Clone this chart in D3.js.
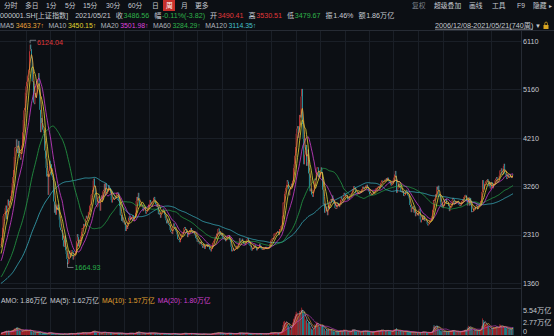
<!DOCTYPE html>
<html>
<head>
<meta charset="utf-8">
<script src="https://cdn.jsdelivr.net/npm/d3@7"></script>
<style>
  html, body { margin: 0; padding: 0; background: #0c0f14; }
  svg { display: block; font-family: "Liberation Sans", "Noto Sans CJK SC", sans-serif; }
</style>
</head>
<body>
<script>
/***** Data *****/
// weekly closes before 2006/12/08, only used to warm up the moving averages
var warmup = [1340,1330,1320,1310,1340,1420,1400,1390,1360,1320,1310,1330,1350,1340,1320,1290,1280,1270,
  1240,1220,1200,1190,1180,1260,1300,1290,1280,1240,1220,1180,1170,1200,1180,1140,1150,1130,1110,1060,
  1040,1050,1010,1080,1060,1090,1040,1030,1020,1030,1080,1120,1160,1180,1160,1150,1170,1160,1140,1110,
  1100,1090,1100,1090,1100,1110,1130,1150,1160,
  1180,1230,1260,1270,1290,1290,1280,1300,1300,1290,1300,1330,1380,1440,1440,1520,1620,1640,1600,1660,
  1680,1700,1720,1640,1600,1590,1570,1610,1600,1610,1640,1680,1710,1750,1760,1760,1800,1830,1860,1880,
  1960,2010,2070,2100];

// weekly closes shown on the chart (740 weeks)
var c2006 = [2120,2250,2450,2675];
var c2007 = [2715,2730,2830,2880,2610,2730,2998,2880,2970,2960,3070,3180,3320,3440,3580,3840,4020,4030,4180,4000,
  3910,4150,3900,3820,3780,3910,4060,4320,4560,4750,4800,5100,5220,5310,5420,5450,5550,5910,6040,5950,
  5770,5320,5320,4900,4870,5090,5010,5100,5260];
var c2008 = [5360,5480,5180,4760,4320,4600,4500,4370,4350,4300,3960,3800,3620,3450,3500,3090,3560,3760,3610,3690,
  3470,3430,3380,2960,2740,2900,2700,2860,2800,2900,2780,2600,2450,2400,2400,2350,2200,2080,2070,2290,
  2000,1930,1830,1730,1750,1990,1930,1870,2000,2000,1990,1820];
var c2009 = [1880,1900,1950,1990,2180,2320,2260,2080,2190,2130,2280,2370,2440,2440,2520,2480,2480,2620,2680,2630,
  2640,2750,2760,2880,2910,3090,3110,3190,3370,3410,3260,3110,2890,2860,2860,3030,3060,2940,2780,3000,
  3080,3000,3160,3190,3310,3100,3320,3200,3110,3150,3280];
var c2010 = [3200,3220,3130,2990,2940,3020,3050,3000,3010,3030,3060,3130,3140,3130,2980,2870,2690,2700,2580,2650,
  2550,2570,2510,2530,2380,2470,2420,2570,2640,2670,2600,2640,2610,2660,2690,2600,2580,2660,2740,2970,
  3050,2980,3130,2990,2880,2880,2860,2880,2900,2770,2810];
var c2011 = [2840,2790,2720,2750,2790,2830,2900,2900,2990,2940,2900,2960,2970,3030,3050,2960,2910,2860,2870,2860,
  2710,2730,2700,2640,2750,2760,2800,2820,2780,2700,2630,2590,2530,2610,2530,2500,2480,2400,2360,2360,
  2320,2470,2530,2480,2420,2390,2360,2310,2220,2220,2200];
var c2012 = [2160,2240,2320,2330,2350,2360,2440,2460,2420,2400,2350,2260,2300,2360,2400,2400,2440,2390,2340,2350,
  2370,2310,2310,2240,2230,2170,2190,2170,2130,2130,2170,2120,2090,2050,2130,2110,2030,2090,2100,2130,
  2070,2120,2070,2020,2030,1980,2030,2150,2150,2190,2230];
var c2013 = [2270,2240,2330,2300,2420,2430,2310,2360,2320,2280,2330,2240,2230,2210,2240,2180,2200,2250,2280,2300,
  2300,2210,2160,2070,1980,2010,2040,1990,2010,2030,2050,2090,2060,2100,2140,2240,2190,2160,2180,2230,
  2190,2130,2150,2110,2140,2200,2220,2240,2200,2110,2100];
var c2014 = [2080,2010,2000,2050,2030,2110,2110,2060,2060,2000,2050,2040,2060,2130,2100,2040,2030,2010,2030,2030,
  2040,2030,2070,2030,2040,2060,2050,2060,2130,2190,2220,2230,2240,2220,2330,2330,2330,2350,2360,2380,
  2340,2300,2420,2420,2480,2490,2680,2940,2940,3110,3160,3230];
var c2015 = [3290,3380,3350,3210,3080,3200,3250,3310,3240,3370,3620,3690,3860,4030,4290,4390,4440,4210,4310,4660,
  4610,5020,5170,4480,4190,3690,3880,3960,4070,3660,3740,3980,3510,3230,3160,3200,3100,3090,3050,3180,
  3390,3410,3380,3590,3630,3630,3440,3520,3430,3580,3630,3540];
var c2016 = [3190,2900,2920,2740,2760,2860,2770,2690,2870,2810,2960,2980,3010,2980,3080,2960,2940,2910,2830,2830,
  2820,2940,2930,2890,2850,2930,2990,3050,3010,2980,2980,3130,3110,3070,3070,3080,3000,3030,3000,3060,
  3090,3100,3130,3200,3190,3260,3240,3230,3120,3110,3100];
var c2017 = [3150,3110,3120,3160,3140,3200,3200,3250,3220,3210,3240,3270,3220,3290,3250,3170,3150,3100,3080,3090,
  3110,3100,3160,3120,3160,3190,3220,3220,3240,3250,3260,3210,3270,3330,3370,3370,3350,3350,3350,3390,
  3380,3420,3370,3430,3380,3350,3320,3290,3270,3300,3310];
var c2018 = [3390,3430,3490,3560,3460,3130,3200,3290,3250,3310,3270,3150,3170,3130,3160,3070,3080,3090,3160,3190,
  3140,3080,3070,3020,2890,2850,2750,2830,2830,2870,2740,2800,2670,2730,2730,2700,2680,2800,2820,2610,
  2550,2600,2680,2600,2680,2580,2590,2610,2590,2520,2490];
var c2019 = [2510,2550,2600,2600,2620,2680,2800,2990,2970,3020,3100,3090,3250,3190,3270,3090,3080,2940,2880,2850,
  2900,2830,2880,3000,2980,3010,2930,2920,2940,2870,2770,2820,2880,2890,2990,3030,3010,2930,2910,2970,
  2940,2950,2960,2960,2890,2890,2870,2910,2970,3000,3010,3050];
var c2020 = [3080,3090,3080,2980,2880,2920,3040,2880,3030,2890,2750,2770,2760,2800,2840,2810,2860,2900,2870,2810,
  2850,2930,2920,2970,2980,3150,3380,3210,3200,3310,3350,3360,3380,3400,3360,3260,3340,3220,3220,3340,
  3280,3220,3310,3310,3380,3410,3440,3350,3390,3400,3470];
var c2021 = [3570,3570,3610,3480,3500,3660,3700,3510,3500,3450,3400,3420,3480,3450,3430,3470,3450,3420,3490,3486.56];

// weekly turnover, in 0.1 万亿
var v2006 = [4,5,6,7];
var v2007 = [8,8,9,9,10,8,9,10,8,8,9,10,11,12,13,15,16,15,17,19,16,14,13,10,9,8,9,11,12,11,10,12,11,11,11,10,10,12,13,11,
  9,8,7,7,6,7,6,5,6];
var v2008 = [8,8,7,7,6,3,4,4,4,4,4,4,3,3,3,5,7,6,5,5,4,4,3,3,2,3,3,3,3,3,2,2,2,2,2,2,2,2,3,4,2,2,2,2,3,4,4,3,4,4,3,3];
var v2009 = [3,3,3,3,5,6,5,4,4,4,5,5,6,6,6,5,5,6,5,5,5,5,5,6,6,7,8,9,10,10,9,8,7,6,6,6,5,5,4,5,5,6,6,7,7,6,6,5,5,5,6];
var v2010 = [6,5,5,5,4,4,4,4,4,4,4,5,5,5,4,4,5,4,4,4,3,3,3,3,3,3,3,4,4,5,5,4,4,4,4,4,3,4,4,7,8,7,8,7,6,5,5,4,4,4,4];
var v2011 = [4,4,3,4,4,4,5,5,5,5,5,5,5,5,5,4,4,4,4,3,3,3,3,3,3,4,4,4,3,3,4,3,3,3,3,3,3,2,3,3,3,4,4,3,3,3,2,2,2,2,2];
var v2012 = [2,2,3,3,4,4,4,5,4,4,3,3,3,3,4,4,4,4,3,3,3,3,3,2,2,2,2,2,2,2,2,2,2,2,3,3,2,2,2,2,2,2,2,2,2,2,3,4,4,4,5];
var v2013 = [5,4,5,5,6,6,5,5,5,4,4,4,3,3,3,3,3,4,4,5,4,4,3,4,4,3,3,3,3,3,4,4,4,4,5,6,5,5,4,5,4,4,4,4,4,5,4,4,3,3,3];
var v2014 = [3,3,3,3,3,4,4,3,3,3,3,3,3,4,4,3,3,3,3,3,3,3,3,3,3,4,4,4,5,6,6,6,5,5,6,6,6,5,4,5,5,5,6,6,7,9,14,24,32,34,
  28,30];
var v2015 = [32,30,26,22,18,16,12,20,24,30,38,40,45,50,56,54,50,44,50,58,55,60,66,60,50,55,45,35,38,35,28,30,32,30,22,18,15,14,12,
  14,22,26,24,30,32,28,24,22,20,24,22,20];
var v2016 = [24,22,16,15,10,11,14,10,15,13,12,13,12,14,11,10,9,8,7,7,9,9,8,8,9,10,11,10,9,9,11,14,12,10,9,10,8,7,7,8,
  9,9,10,14,14,13,12,10,9,9,8];
var v2017 = [8,8,8,7,7,8,9,10,10,9,9,10,9,10,9,8,8,7,7,7,7,7,8,8,8,9,10,10,10,10,10,10,11,12,13,12,11,11,9,10,
  10,11,11,12,11,10,9,9,8,8,8];
var v2018 = [12,13,14,14,13,16,8,10,10,10,10,10,9,9,8,8,8,8,9,9,8,8,7,7,7,7,7,7,7,7,6,6,6,6,6,5,5,6,6,5,
  7,6,8,8,8,7,6,6,6,5,5];
var v2019 = [6,6,7,6,6,8,11,20,24,22,20,21,20,22,18,15,12,11,10,9,9,9,8,9,9,9,8,8,8,8,9,9,9,10,12,12,11,10,8,8,
  8,8,8,8,8,7,8,9,9,10,10,10];
var v2020 = [12,13,12,11,18,17,22,20,20,17,17,13,12,11,11,12,11,11,10,10,11,12,12,13,12,22,40,36,30,28,
  28,25,24,24,22,19,18,15,13,18,16,15,18,17,19,20,20,19,18,17,18];
var v2021 = [26,24,22,20,18,22,20,19,17,15,18,16,14,14,14,15,16,14,17,19];

var priceTicks = [1360, 2310, 3260, 4210, 5160, 6110];
var amountTicks = [0, 2.77, 5.54];
var highestPrice = 6124.04;
var lowestPrice = 1664.93;

var periodTabs = ["分时", "多日", "1分", "5分", "15分", "30分", "60分", "日", "周", "月", "更多"];
var toolTabs = ["复权", "超级叠加", "画线", "工具", "F9", "隐藏"];
var stockName = "000001.SH[上证指数]";
var quoteDate = "2021/05/21";
var quoteLabels = ["收", "幅", "开", "高", "低", "振", "额"];
var quoteValues = ["3486.56", "-0.11%(-3.82)", "3490.41", "3530.51", "3479.67", "1.46%", "1.86万亿"];
var maNames = ["MA5", "MA10", "MA20", "MA60", "MA120"];
var maPeriods = [5, 10, 20, 60, 120];
var maLast = ["3463.37↑", "3450.15↑", "3501.98↑", "3284.29↑", "3114.35↑"];
var rangeText = "2006/12/08-2021/05/21(740周)";
var amoLabels = ["AMO: 1.86万亿", "MA(5): 1.62万亿", "MA(10): 1.57万亿", "MA(20): 1.80万亿"];
var amoPeriods = [5, 10, 20];

/***** Configuration *****/
var W = 554, H = 336;
var bg = "#0c0f14";
var upColor = "#e03b3d", downColor = "#2fb2bd";
var maColors = ["#eea53c", "#e2da36", "#d23fd2", "#25a046", "#3ab0c0"];
var maTextColors = ["#e9a23a", "#e0d62e", "#de42de", "#2fb24a", "#45c0cc"];
var amoColors = ["#c9ccd2", "#c9ccd2", "#e0a030", "#d23fd2"];
var textColor = "#c6cad1";
var fs = 7.2;

var closes = [].concat(c2006, c2007, c2008, c2009, c2010, c2011, c2012, c2013, c2014,
  c2015, c2016, c2017, c2018, c2019, c2020, c2021);
var amounts = [].concat(v2006, v2007, v2008, v2009, v2010, v2011, v2012, v2013, v2014,
  v2015, v2016, v2017, v2018, v2019, v2020, v2021).map(function (v) { return v / 10; });
var n = closes.length;
var series = warmup.concat(closes);
var P = warmup.length;

function movingAverage(arr, offset, len) {
  return d3.range(n).map(function (i) {
    var end = offset + i + 1;
    var start = Math.max(0, end - len);
    return d3.mean(arr.slice(start, end));
  });
}

/***** Scales *****/
var x = d3.scaleLinear().domain([0, n - 1]).range([1, 513]);
var y = d3.scaleLinear().domain([1360, 6110]).range([283, 41]);
var yv = d3.scaleLinear().domain([0, 5.54]).range([335, 312]);
var col = d3.scaleLinear().domain([0, 21]).range([1.5, 516]);

var svg = d3.select("body").append("svg").attr("width", W).attr("height", H);
svg.append("rect").attr("width", W).attr("height", H).attr("fill", bg);

var defs = svg.append("defs");
defs.append("clipPath").attr("id", "mainClip").append("rect")
  .attr("x", 0).attr("y", 31).attr("width", 520).attr("height", 257);
defs.append("clipPath").attr("id", "volClip").append("rect")
  .attr("x", 0).attr("y", 305).attr("width", 520).attr("height", 31);

/***** Grid *****/
var grid = svg.append("g").attr("stroke", "#1a1f27").attr("stroke-width", 1);
d3.range(1, 21).forEach(function (k) {
  var gx = Math.round(col(k)) + 0.5;
  grid.append("line").attr("x1", gx).attr("x2", gx).attr("y1", 31).attr("y2", H);
});
priceTicks.forEach(function (t) {
  var gy = Math.round(y(t)) + 0.5;
  grid.append("line").attr("x1", 0).attr("x2", 521).attr("y1", gy).attr("y2", gy);
});
var frame = svg.append("g").attr("stroke", "#262b34").attr("stroke-width", 1);
frame.append("line").attr("x1", 0).attr("x2", W).attr("y1", 30.5).attr("y2", 30.5);
frame.append("line").attr("x1", 0).attr("x2", 521).attr("y1", 288.5).attr("y2", 288.5);
frame.append("line").attr("x1", 521.5).attr("x2", 521.5).attr("y1", 31).attr("y2", H);

/***** Candles *****/
var main = svg.append("g").attr("clip-path", "url(#mainClip)");
main.selectAll("rect.k").data(closes).enter().append("rect")
  .attr("class", "k")
  .attr("x", function (d, i) { return x(i) - 0.4; })
  .attr("width", 0.8)
  .attr("y", function (d, i) { var o = series[P + i - 1]; return y(Math.max(o, d)); })
  .attr("height", function (d, i) { var o = series[P + i - 1]; return Math.max(0.8, Math.abs(y(o) - y(d))); })
  .attr("fill", function (d, i) { return d >= series[P + i - 1] ? upColor : downColor; });

/***** Moving averages *****/
var line = d3.line().x(function (d, i) { return x(i); }).y(function (d) { return y(d); });
maPeriods.slice().reverse().forEach(function (p, j) {
  var k = maPeriods.length - 1 - j;
  main.append("path")
    .attr("d", line(movingAverage(series, P, p)))
    .attr("fill", "none").attr("stroke", maColors[k]).attr("stroke-width", 0.8);
});

/***** High / low marks *****/
var iHigh = d3.maxIndex(closes), iLow = d3.minIndex(closes);
var hx = x(iHigh), hy = y(highestPrice);
svg.append("path").attr("d", "M" + hx + "," + (hy + 3) + "V" + hy + "H" + (hx + 6))
  .attr("fill", "none").attr("stroke", "#9aa0a8").attr("stroke-width", 0.7);
svg.append("text").attr("x", hx + 7).attr("y", hy + 2.5).attr("dy", "0.35em")
  .attr("fill", "#e0383a").attr("font-size", fs).text(highestPrice.toFixed(2));
var lx = x(iLow), ly = y(lowestPrice);
svg.append("path").attr("d", "M" + lx + "," + (ly - 5) + "V" + ly + "H" + (lx + 6))
  .attr("fill", "none").attr("stroke", "#9aa0a8").attr("stroke-width", 0.7);
svg.append("text").attr("x", lx + 7).attr("y", ly).attr("dy", "0.35em")
  .attr("fill", "#27b04a").attr("font-size", fs).text(lowestPrice.toFixed(2));

/***** Right axis *****/
var yAxis = d3.axisRight(y).tickValues(priceTicks).tickSize(0).tickPadding(2).tickFormat(d3.format("d"));
var ga = svg.append("g").attr("transform", "translate(521,0)").call(yAxis);
ga.select(".domain").remove();
ga.selectAll("text").attr("fill", textColor).attr("font-size", fs).attr("font-family", null);

/***** Volume *****/
var vol = svg.append("g").attr("clip-path", "url(#volClip)");
vol.selectAll("rect.v").data(amounts).enter().append("rect")
  .attr("class", "v")
  .attr("x", function (d, i) { return x(i) - 0.4; })
  .attr("width", 0.8)
  .attr("y", function (d) { return yv(d); })
  .attr("height", function (d) { return yv(0) - yv(d); })
  .attr("fill", function (d, i) { return closes[i] >= series[P + i - 1] ? "#b3262c" : "#22959e"; });
var vline = d3.line().x(function (d, i) { return x(i); }).y(function (d) { return yv(d); });
amoPeriods.forEach(function (p, k) {
  vol.append("path").attr("d", vline(movingAverage(amounts, 0, p)))
    .attr("fill", "none").attr("stroke", amoColors[k + 1]).attr("stroke-width", 0.6);
});
amountTicks.forEach(function (t) {
  svg.append("text").attr("x", 523).attr("y", yv(t) - (t ? 1.5 : 3.5)).attr("dy", "0.35em")
    .attr("fill", textColor).attr("font-size", fs)
    .text(t ? t.toFixed(2) + "万亿" : "0");
});

/***** Header *****/
function label(s, px, py, fill, size) {
  return svg.append("text").attr("x", px).attr("y", py).attr("dy", "0.35em")
    .attr("fill", fill).attr("font-size", size || fs).text(s);
}
// lay texts out one after another, sized so the row ends where the reference's row ends
function flow(parts, x0, py, xEnd) {
  var probe = svg.append("g");
  var textW = 0, gaps = 0;
  parts.forEach(function (p) {
    textW += probe.append("text").attr("font-size", 10).text(p[0]).node().getComputedTextLength();
    gaps += p[2];
  });
  probe.remove();
  var size = Math.min(7.4, 10 * (xEnd - x0 - gaps) / textW);
  var cx = x0;
  parts.forEach(function (p) {
    var t = label(p[0], cx, py, p[1], size);
    cx += t.node().getComputedTextLength() + p[2];
  });
}

var tabX = [4, 25, 46, 65, 83, 106, 128, 152, 166, 181, 195];
svg.append("rect").attr("x", 163).attr("y", 0).attr("width", 12).attr("height", 11).attr("fill", "#c8302c");
periodTabs.forEach(function (s, k) { label(s, tabX[k], 5.5, k === 8 ? "#ffffff" : textColor, 6.8); });
var toolX = [412, 434, 469, 492, 517, 533];
toolTabs.forEach(function (s, k) { label(s, toolX[k], 5.5, k === 0 ? "#7d828b" : textColor, 6.8); });
label("▸", 549, 5.5, textColor, 6);

var qColors = ["#2fb24a", "#2fb24a", "#e0383a", "#e0383a", "#2fb24a", textColor, textColor];
var row2 = [[stockName, textColor, 7], [quoteDate, textColor, 5]];
quoteLabels.forEach(function (s, k) {
  row2.push([s, textColor, 0.6]);
  row2.push([quoteValues[k], qColors[k], k === 6 ? 0 : 5]);
});
flow(row2, 0, 15.5, 395);

var row3 = [];
maNames.forEach(function (s, k) {
  row3.push([s, "#aeb3bb", 1.5]);
  row3.push([maLast[k], maTextColors[k], k === 4 ? 0 : 4.5]);
});
flow(row3, 0, 25.5, 257);

var row4 = amoLabels.map(function (s, k) { return [s, amoColors[k], k === 3 ? 0 : 3]; });
flow(row4, 1, 301, 211);

label(rangeText, 435, 25.5, textColor);
svg.append("line").attr("x1", 435).attr("x2", 533).attr("y1", 29.2).attr("y2", 29.2)
  .attr("stroke", textColor).attr("stroke-width", 0.6);
label("▼", 535, 25.5, textColor, 6);
svg.append("rect").attr("x", 543.5).attr("y", 25).attr("width", 5).attr("height", 4).attr("fill", "#d9a520");
svg.append("path").attr("d", "M544.8,25V23.4a1.3,1.3 0 0 1 2.6,0V25")
  .attr("fill", "none").attr("stroke", "#d9a520").attr("stroke-width", 0.8);
</script>
</body>
</html>
